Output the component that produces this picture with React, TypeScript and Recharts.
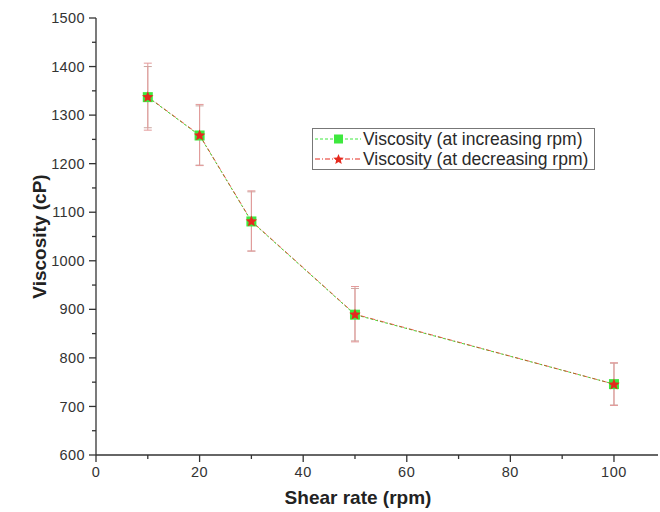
import React from 'react';
import { LineChart, Line, XAxis, YAxis, ErrorBar, Legend } from 'recharts';

const shearRate = [10, 20, 30, 50, 100];
const viscosityIncreasing = [1337, 1258, 1081, 889, 746];
const errorIncreasing = [63, 61, 61, 54, 43];
const viscosityDecreasing = [1338, 1259, 1082, 890, 746];
const errorDecreasing = [69, 63, 62, 57, 44];

const xTicks = [0, 10, 20, 30, 40, 50, 60, 70, 80, 90, 100];
const xMajorTicks = [0, 20, 40, 60, 80, 100];
const yTicks = [600, 650, 700, 750, 800, 850, 900, 950, 1000, 1050, 1100, 1150, 1200, 1250, 1300, 1350, 1400, 1450, 1500];
const yMajorTicks = [600, 700, 800, 900, 1000, 1100, 1200, 1300, 1400, 1500];

const incLabel = 'Viscosity (at increasing rpm)';
const decLabel = 'Viscosity (at decreasing rpm)';
const xTitle = 'Shear rate (rpm)';
const yTitle = 'Viscosity (cP)';

const data = shearRate.map((x, i) => ({
  x,
  inc: viscosityIncreasing[i],
  incErr: errorIncreasing[i],
  dec: viscosityDecreasing[i],
  decErr: errorDecreasing[i],
}));

const FONT = '"Liberation Sans", Arial, sans-serif';
const AXIS = '#333';
const GREEN = '#3ee83e';
const RED = '#e52a1e';

const starPath = (cx: number, cy: number, R: number) => {
  const r = R * 0.45;
  let d = '';
  for (let k = 0; k < 10; k++) {
    const rad = k % 2 === 0 ? R : r;
    const a = -Math.PI / 2 + (k * Math.PI) / 5;
    d += (k === 0 ? 'M' : 'L') + (cx + rad * Math.cos(a)).toFixed(2) + ',' + (cy + rad * Math.sin(a)).toFixed(2);
  }
  return d + 'Z';
};

const XTick = (props: any) => {
  const { x, y, payload } = props;
  const v = payload.value;
  const major = xMajorTicks.includes(v);
  return (
    <g>
      <line x1={x} x2={x} y1={y} y2={y + (major ? 7 : 4)} stroke={AXIS} strokeWidth={1.3} />
      {major && (
        <text x={x} y={y + 10} dy="0.8em" textAnchor="middle" fontSize={14.5} letterSpacing={0.6} fontFamily={FONT} fill="#333">
          {v}
        </text>
      )}
    </g>
  );
};

const YTick = (props: any) => {
  const { x, y, payload } = props;
  const v = payload.value;
  const major = yMajorTicks.includes(v);
  return (
    <g>
      <line x1={x} x2={x - (major ? 7 : 4)} y1={y} y2={y} stroke={AXIS} strokeWidth={1.3} />
      {major && (
        <text x={x - 11} y={y} dy="0.35em" textAnchor="end" fontSize={14.5} letterSpacing={0.4} fontFamily={FONT} fill="#333">
          {v}
        </text>
      )}
    </g>
  );
};

const LegendContent = () => (
  <div
    style={{
      border: '1px solid #777',
      background: '#fff',
      width: 281,
      height: 40,
      fontFamily: FONT,
      fontSize: 17.5,
      color: '#2a2a2a',
      boxSizing: 'content-box',
    }}
  >
    {[
      { label: incLabel, color: GREEN, dash: '3 2', kind: 'sq' },
      { label: decLabel, color: RED, dash: '5 2 1 2', kind: 'star' },
    ].map((e, i) => (
      <div key={i} style={{ display: 'flex', alignItems: 'center', height: 20, whiteSpace: 'nowrap' }}>
        <svg width={50} height={16} style={{ flex: 'none' }}>
          <line x1={2} x2={48} y1={8} y2={8} stroke={e.color} strokeWidth={1} strokeDasharray={e.dash} />
          {e.kind === 'sq' ? (
            <rect x={21} y={3.5} width={9} height={9} fill={GREEN} />
          ) : (
            <path d={starPath(25.5, 8.5, 5.5)} fill={RED} />
          )}
        </svg>
        <span>{e.label}</span>
      </div>
    ))}
  </div>
);

const YTitle = (props: any) => {
  const { viewBox } = props;
  const cx = viewBox.x + 39;
  const cy = viewBox.y + viewBox.height / 2;
  return (
    <text x={cx} y={cy} transform={`rotate(-90 ${cx} ${cy})`} textAnchor="middle" dy="0.35em" fontSize={19} fontWeight="bold" fontFamily={FONT} fill="#222">
      {yTitle}
    </text>
  );
};

const XTitle = (props: any) => {
  const { viewBox } = props;
  const cx = viewBox.x + 262;
  const cy = viewBox.y + 42;
  return (
    <text x={cx} y={cy} textAnchor="middle" dy="0.35em" fontSize={19} fontWeight="bold" fontFamily={FONT} fill="#222">
      {xTitle}
    </text>
  );
};

export default function App() {
  return (
    <div style={{ position: 'absolute', left: 0, top: 0, width: 660, height: 512, background: '#fff' }}>
      <LineChart width={660} height={512} data={data} margin={{ top: 18, right: 2, left: 0, bottom: 0 }}>
        <XAxis
          dataKey="x"
          type="number"
          domain={[0, 108.5]}
          ticks={xTicks}
          interval={0}
          tick={<XTick />}
          tickLine={false}
          tickSize={0}
          tickMargin={0}
          height={57}
          axisLine={{ stroke: AXIS, strokeWidth: 1.3 }}
          label={<XTitle />}
        />
        <YAxis
          type="number"
          domain={[600, 1500]}
          ticks={yTicks}
          interval={0}
          tick={<YTick />}
          tickLine={false}
          tickSize={0}
          tickMargin={0}
          width={96}
          axisLine={{ stroke: AXIS, strokeWidth: 1.3 }}
          label={<YTitle />}
        />
        <Legend
          layout="vertical"
          align="center"
          verticalAlign="middle"
          wrapperStyle={{ left: 312, top: 128, width: 283, height: 42 }}
          content={<LegendContent />}
        />
        <Line
          dataKey="inc"
          name={incLabel}
          type="linear"
          stroke={GREEN}
          strokeWidth={1}
          strokeDasharray="3 2"
          isAnimationActive={false}
          dot={(p: any) => (
            <rect key={`inc-${p.index}`} x={p.cx - 5} y={p.cy - 5} width={10} height={10} fill={GREEN} />
          )}
        >
          <ErrorBar dataKey="incErr" direction="y" width={4} stroke="#c9a7a0" strokeWidth={1} />
        </Line>
        <Line
          dataKey="dec"
          name={decLabel}
          type="linear"
          stroke={RED}
          strokeOpacity={0.75}
          strokeWidth={1}
          strokeDasharray="5 2 1 2"
          isAnimationActive={false}
          dot={(p: any) => <path key={`dec-${p.index}`} d={starPath(p.cx, p.cy + 0.5, 6)} fill={RED} />}
        >
          <ErrorBar dataKey="decErr" direction="y" width={4} stroke="#e39a9a" strokeWidth={1} />
        </Line>
      </LineChart>
    </div>
  );
}
